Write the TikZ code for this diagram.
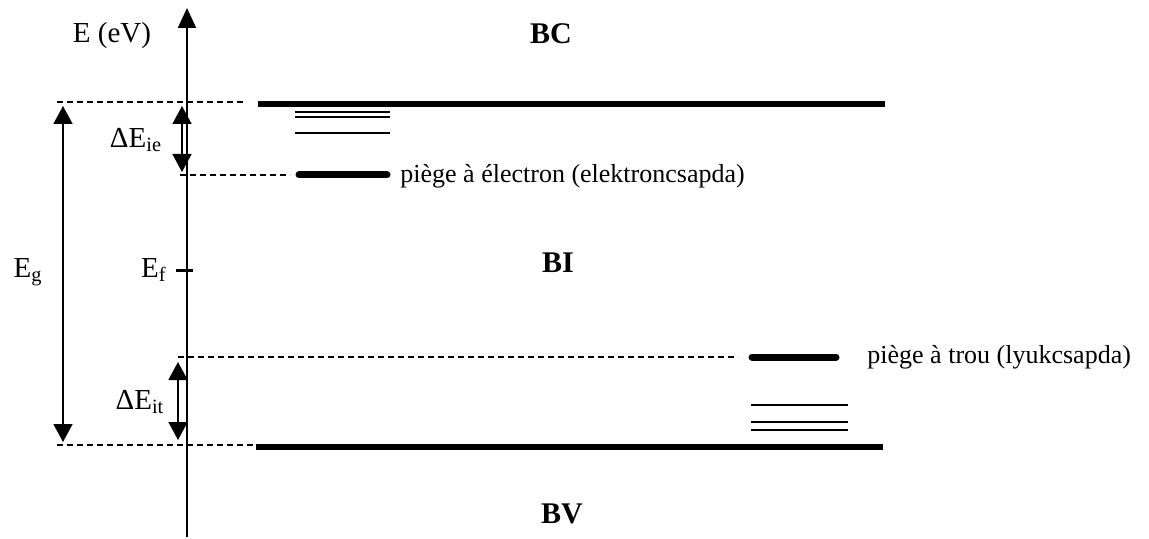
\documentclass[tikz,border=0pt]{standalone}
\usepackage{fontspec}
\setmainfont{Liberation Serif}
\usetikzlibrary{arrows.meta}

\begin{document}
\begin{tikzpicture}[
  x=0.5pt, y=-0.5pt,
  every node/.style={font=\fontsize{13}{15}\selectfont, inner sep=0pt},
  band/.style={line width=2.6pt},
  trap/.style={line width=3.5pt, line cap=round},
  level/.style={line width=1pt},
  guide/.style={line width=0.7pt, dash pattern=on 3pt off 2pt},
  gap/.style={line width=0.8pt, {Triangle[length=9pt,width=9.5pt]}-{Triangle[length=9pt,width=9.5pt]}},
  bandname/.style={font=\fontsize{15}{18}\selectfont\bfseries}
]
  \useasboundingbox (0,0) rectangle (1149,539);

  % energy axis
  \coordinate (axbot) at (187,537);
  \coordinate (axtop) at (187,8);
  \draw[line width=1pt, -{Triangle[length=10pt,width=9pt]}] (axbot) -- (axtop);
  \node (axlabel) at (112,36) {\fontsize{14.5}{17}\selectfont E (eV)};

  % bands
  \node[bandname] (bc) at (551,34) {BC};
  \node[bandname] (bi) at (558,263) {BI};
  \node[bandname] (bv) at (562,514) {BV};
  \coordinate (bcl) at (258,104);
  \coordinate (bcr) at (885,104);
  \coordinate (bvl) at (256,447);
  \coordinate (bvr) at (883,447);
  \draw[band] (bcl) -- (bcr);
  \draw[band] (bvl) -- (bvr);

  % gap
  \coordinate (gtopl) at (57,102);
  \coordinate (gtopr) at (243,102);
  \coordinate (gbotl) at (57,445);
  \coordinate (gbotr) at (255,445);
  \draw[guide] (gtopl) -- (gtopr);
  \draw[guide] (gbotl) -- (gbotr);
  \coordinate (egtop) at (63,106);
  \coordinate (egbot) at (63,442);
  \draw[gap] (egtop) -- (egbot);
  \node (eg) at (28,272) {\fontsize{14.5}{17}\selectfont E\textsubscript{g}};

  % Fermi level
  \coordinate (efl) at (176,271);
  \coordinate (efr) at (193,271);
  \draw[line width=1.5pt] (efl) -- (efr);
  \node[anchor=east] (ef) at (167,270) {\fontsize{14.5}{17}\selectfont E\textsubscript{f}};

  % electron trap
  \foreach \y/\n in {112/a, 117/b, 133/c} {
    \coordinate (cl\n) at (295,\y);
    \coordinate (cr\n) at (390,\y);
    \draw[level] (cl\n) -- (cr\n);
  }
  \coordinate (etg) at (180,175);
  \coordinate (etgr) at (290,175);
  \coordinate (etl) at (299,175);
  \coordinate (etr) at (387,175);
  \draw[guide] (etg) -- (etgr);
  \draw[trap] (etl) -- (etr);
  \node[anchor=west] (etlabel) at (400,176) {piège à électron (elektroncsapda)};
  \coordinate (ietop) at (182,106);
  \coordinate (iebot) at (182,172);
  \draw[gap] (ietop) -- (iebot);
  \node (ie) at (136,140) {\fontsize{14.5}{17}\selectfont ΔE\textsubscript{ie}};

  % hole trap
  \coordinate (htg) at (178,357);
  \coordinate (htgr) at (738,357);
  \coordinate (htl) at (752,357);
  \coordinate (htr) at (836,357);
  \draw[guide] (htg) -- (htgr);
  \draw[trap] (htl) -- (htr);
  \node[anchor=west] (htlabel) at (867,357) {piège à trou (lyukcsapda)};
  \foreach \y/\n in {405/a, 422/b, 430/c} {
    \coordinate (vl\n) at (751,\y);
    \coordinate (vr\n) at (848,\y);
    \draw[level] (vl\n) -- (vr\n);
  }
  \coordinate (ittop) at (178,362);
  \coordinate (itbot) at (178,440);
  \draw[gap] (ittop) -- (itbot);
  \node (it) at (140,402) {\fontsize{14.5}{17}\selectfont ΔE\textsubscript{it}};
\end{tikzpicture}
\end{document}
